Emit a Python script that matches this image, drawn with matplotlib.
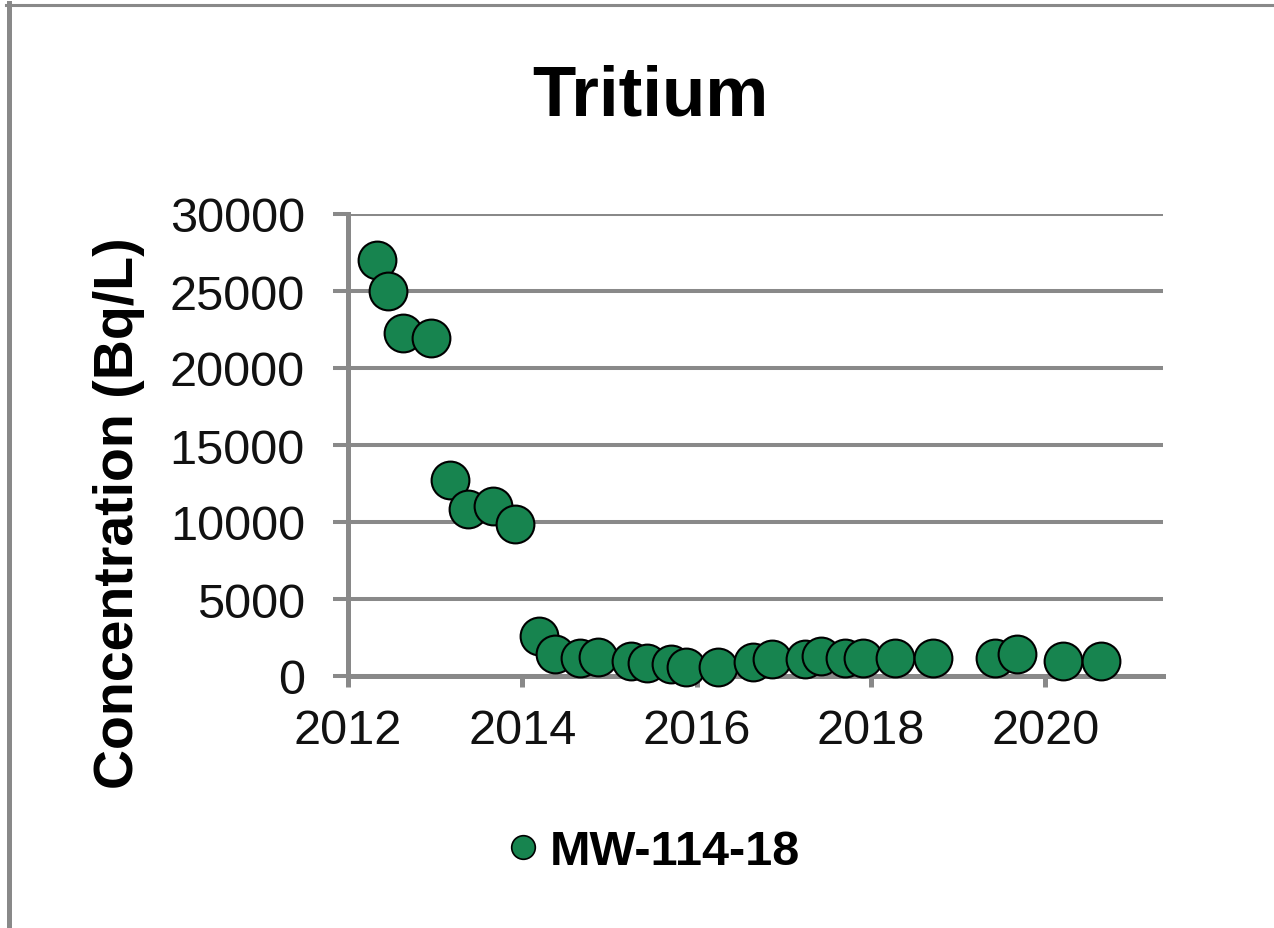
"""Tritium concentration at MW-114-18, recreated with matplotlib."""

import matplotlib
matplotlib.use("Agg")
import matplotlib.pyplot as plt
from matplotlib.lines import Line2D

plt.rcParams["font.family"] = ["Liberation Sans", "DejaVu Sans"]

# sampling dates (decimal years) and tritium concentration (Bq/L)
years = [
    2012.33, 2012.46, 2012.63, 2012.95, 2013.17, 2013.38, 2013.66, 2013.92,
    2014.19, 2014.37, 2014.66, 2014.87, 2015.25, 2015.43, 2015.71, 2015.88,
    2016.25, 2016.65, 2016.86, 2017.24, 2017.43, 2017.70, 2017.91, 2018.27,
    2018.71, 2019.42, 2019.67, 2020.20, 2020.64,
]
tritium = [
    27000, 25000, 22300, 21950, 12700, 10850, 11050, 9900,
    2580, 1430, 1150, 1210, 990, 840, 780, 560,
    560, 890, 1100, 1100, 1280, 1150, 1150, 1150,
    1150, 1150, 1430, 990, 990,
]
series_name = "MW-114-18"
x_ticks = [2012, 2014, 2016, 2018, 2020]
y_ticks = [0, 5000, 10000, 15000, 20000, 25000, 30000]

W, H = 1274, 929
fig = plt.figure(figsize=(W / 100, H / 100), dpi=100)
ax = fig.add_axes([348 / W, 1 - 677 / H, (1163 - 348) / W, (677 - 215) / H])

green = "#17844f"
grey = "#898989"

ax.scatter(years, tritium, s=740, color=green, edgecolor="black",
           linewidth=1.5, zorder=3, clip_on=False, label=series_name)

ax.set_xlim(2012, 2021.35)
ax.set_ylim(0, 30000)
ax.set_xticks(x_ticks)
ax.set_yticks(y_ticks)
ax.set_xticklabels([str(t) for t in x_ticks])
ax.set_yticklabels([str(t) for t in y_ticks])

ax.grid(axis="y", color=grey, linewidth=2.9)
ax.set_axisbelow(True)
for side in ["top", "right"]:
    ax.spines[side].set_visible(False)
for side in ["left", "bottom"]:
    ax.spines[side].set_color(grey)
    ax.spines[side].set_linewidth(3.6)

ax.tick_params(axis="x", direction="out", length=8, width=3.6, color=grey,
               labelsize=35, pad=15, labelcolor="#111111")
ax.tick_params(axis="y", direction="out", length=11, width=2.9, color=grey,
               labelsize=35, pad=20, labelcolor="#111111")

fig.text(650 / W, 1 - 97 / H, "Tritium", fontsize=51, fontweight="bold",
         ha="center", va="center")
fig.text(119 / W, 1 - 513 / H, "Concentration (Bq/L)", fontsize=40,
         fontweight="bold", rotation=90, ha="center", va="center")

leg_handle = Line2D([], [], marker="o", linestyle="none", markersize=17,
                    markerfacecolor=green, markeredgecolor="black",
                    markeredgewidth=1.2)
fig.legend([leg_handle], [series_name], loc="center",
           bbox_to_anchor=(649 / W, 1 - 853 / H), frameon=False,
           prop={"size": 35, "weight": "bold"}, handletextpad=0.05,
           handlelength=1.0)

# outer chart frame (only the top and left edges show)
fig.add_artist(Line2D([8.5 / W, 8.5 / W], [0, 1 - 4 / H], color=grey,
                      linewidth=3.6, transform=fig.transFigure))
fig.add_artist(Line2D([6 / W, 1], [1 - 5.5 / H, 1 - 5.5 / H], color=grey,
                      linewidth=2.2, transform=fig.transFigure))

fig.savefig("out.png", dpi=100)
plt.close(fig)
